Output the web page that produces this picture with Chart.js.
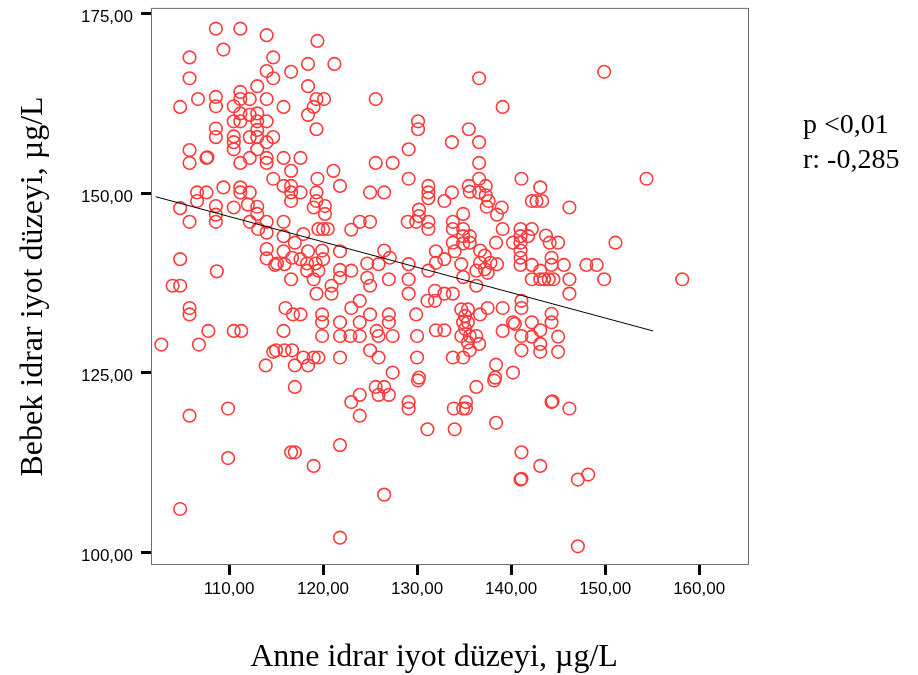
<!DOCTYPE html>
<html>
<head>
<meta charset="utf-8">
<script src="https://cdn.jsdelivr.net/npm/chart.js@4.4.0/dist/chart.umd.min.js"></script>
<style>
body{margin:0;background:#fff;}
#wrap{position:relative;width:918px;height:675px;}
.note{position:absolute;left:803px;font-family:'Liberation Serif','Times New Roman',serif;font-size:28px;color:#000;line-height:32px;white-space:nowrap;}
#xtitle{position:absolute;left:134px;width:600px;top:636px;text-align:center;font-family:'Liberation Serif','Times New Roman',serif;font-size:32px;line-height:38px;color:#000;}
</style>
</head>
<body>
<div id="wrap">
  <canvas id="scatter" width="918" height="675"></canvas>
  <div class="note" style="top:108px">p &lt;0,01</div>
  <div class="note" style="top:143px">r: -0,285</div>
  <div id="xtitle">Anne idrar iyot düzeyi, µg/L</div>
</div>
<script>
// anne (mother) urine iodine, x axis
var anneIyot = [
  108.6,111.2,114.0,109.4,105.8,114.7,105.8,114.0,114.7,113.0,
  111.2,106.7,108.6,108.6,104.8,111.2,112.2,114.0,110.5,111.2,
  112.2,113.0,110.5,111.2,113.0,114.0,108.6,108.6,110.5,112.2,
  113.0,113.0,114.7,110.5,110.5,114.0,113.0,105.8,105.8,107.6,
  107.7,111.2,112.2,114.0,114.0,114.7,109.4,111.2,106.6,107.6,
  111.2,112.2,
  106.6,104.8,108.6,108.6,110.5,112.0,113.0,113.0,112.2,114.0,
  105.8,108.6,113.1,114.0,114.0,114.0,114.9,104.8,108.7,104.0,
  104.8,105.8,105.8,107.8,110.5,111.3,102.8,106.8,114.7,113.9,
  105.8,109.9,109.9,104.8,
  119.4,118.4,121.2,116.6,118.4,119.3,120.1,125.6,115.8,119.0,
  118.4,119.3,115.8,117.6,116.6,121.1,119.4,125.6,127.4,115.8,
  116.6,121.8,
  116.6,116.6,117.6,119.3,119.3,120.2,120.2,119.0,125.0,126.5,
  115.8,115.8,117.9,117.0,119.5,120.0,120.5,123.0,123.9,125.0,
  121.8,126.5,127.1,115.8,119.9,118.4,120.0,116.7,117.6,115.1,
  115.9,118.3,119.2,118.3,119.5,124.7,125.9,121.8,123.0,116.6,
  119.0,121.8,124.7,125.0,127.0,120.9,120.9,119.3,123.9,123.0,
  116.0,116.8,117.6,119.9,119.9,121.8,123.9,125.0,127.0,127.0,
  115.8,119.9,121.8,122.9,123.9,125.7,125.9,127.4,115.0,115.9,
  116.7,117.9,119.0,119.5,121.8,125.0,125.9,117.0,118.4,127.4,
  117.0,123.9,123.0,123.9,125.6,126.5,125.9,127.0,116.6,117.0,
  119.0,121.8,126.5,121.8,
  136.6,139.1,130.1,130.1,135.5,133.7,136.6,129.1,136.6,129.1,
  136.6,141.1,131.2,131.2,135.5,137.3,133.7,136.6,137.3,
  131.2,132.9,135.6,137.6,137.4,139.0,138.5,130.2,130.2,129.0,
  129.9,131.2,131.2,134.9,133.8,133.8,134.9,134.9,135.6,135.6,
  133.8,134.9,134.0,132.0,139.1,140.2,138.4,141.0,141.0,141.0,
  141.0,141.0,141.0,141.8,136.7,137.2,136.7,137.8,137.2,136.3,
  138.5,137.5,134.7,132.9,132.0,131.2,129.1,129.1,129.1,134.9,
  136.3,131.9,131.9,132.9,133.8,131.1,134.7,135.1,135.4,134.9,
  135.4,135.1,134.7,135.6,136.3,135.4,136.6,136.7,137.5,139.1,
  141.1,141.1,129.9,132.0,132.9,130.0,139.1,140.2,140.4,141.1,
  141.1,130.0,133.8,134.9,135.6,138.4,138.3,140.2,130.2,
  130.1,136.3,138.2,129.1,129.1,133.9,134.9,135.2,135.2,131.1,
  134.0,138.4,141.1,141.0,141.1,
  149.9,154.4,143.1,
  142.2,142.7,143.3,146.2,142.2,143.7,144.1,145.0,151.1,142.2,
  144.3,144.3,145.6,143.1,148.0,149.1,142.2,143.1,143.5,144.0,
  144.5,146.2,146.2,149.9,158.2,144.3,144.3,143.1,142.2,142.2,
  143.1,143.1,145.0,145.0,
  144.3,144.4,146.2,143.1,147.1,148.2,147.1
];

// bebek (baby) urine iodine, y axis
var bebekIyot = [
  172.9,172.9,172.0,170.0,168.9,168.9,166.0,167.0,166.0,164.9,
  164.1,163.1,163.4,162.1,162.0,163.1,163.1,163.1,162.1,161.1,
  160.9,161.1,160.0,160.0,160.0,160.0,159.0,157.8,157.9,157.8,
  158.8,157.8,157.8,157.1,156.1,157.1,156.1,156.0,154.2,154.9,
  155.0,154.2,154.9,154.9,154.2,152.0,150.8,150.8,150.1,150.1,
  150.1,150.1,
  148.9,147.9,148.2,147.0,148.0,148.4,148.1,147.1,146.0,146.0,
  146.0,146.0,145.0,144.5,142.2,140.9,140.0,140.8,139.1,137.1,
  137.1,134.0,133.1,130.8,130.8,130.8,128.9,128.9,127.9,126.0,
  119.0,120.0,113.1,106.0,
  171.2,168.0,168.0,166.9,164.9,163.1,163.1,163.1,162.0,162.0,
  160.9,158.9,154.9,154.9,153.1,153.1,152.0,154.2,154.2,151.0,
  151.0,151.0,
  150.1,148.9,150.1,150.1,148.9,148.2,147.1,148.0,150.1,150.1,
  146.0,144.0,144.3,143.1,145.0,145.0,145.0,144.9,146.0,146.0,
  141.9,142.0,141.0,141.9,142.0,141.9,140.8,141.0,140.8,140.2,
  140.1,140.2,140.2,139.2,139.2,140.2,140.1,139.3,139.2,138.0,
  138.0,138.2,138.2,137.1,138.0,137.1,136.0,136.0,135.0,134.0,
  134.0,133.1,133.1,133.1,132.0,132.0,132.0,133.1,133.1,132.0,
  130.8,130.1,130.1,130.1,130.1,130.8,130.1,130.1,128.1,128.1,
  128.1,127.1,127.1,127.1,127.1,128.1,127.1,126.0,126.0,125.0,
  123.0,121.9,120.9,119.0,123.0,123.0,121.9,121.9,113.9,113.9,
  112.0,114.9,108.0,102.0,
  166.0,162.0,160.0,158.9,158.9,157.1,157.1,156.1,154.2,152.0,
  152.0,152.0,151.0,150.1,151.0,151.0,150.1,150.1,149.7,
  149.3,148.9,150.2,148.9,148.1,148.0,147.0,147.7,146.8,146.0,
  146.0,146.0,145.0,147.1,146.0,145.0,145.0,144.0,144.0,143.1,
  143.1,143.0,141.9,141.9,145.0,143.1,143.1,145.0,144.0,143.1,
  142.0,141.0,140.0,144.0,142.0,141.3,140.3,140.3,139.4,139.2,
  140.1,138.9,140.1,140.8,140.3,139.2,140.1,138.0,136.0,138.3,
  137.1,136.4,135.0,136.0,136.0,135.0,133.8,132.9,133.8,132.0,
  132.0,131.1,130.1,130.1,130.1,129.2,129.0,133.1,134.0,134.0,
  135.0,134.0,133.1,130.9,130.9,130.1,130.8,132.0,131.8,130.1,
  128.1,127.1,127.1,127.1,128.1,126.1,124.3,125.0,124.3,
  123.9,123.0,123.9,120.9,120.0,120.0,120.0,120.9,120.0,117.1,
  117.1,118.0,113.9,110.1,110.2,
  166.9,152.0,150.8,
  148.9,148.9,148.9,148.0,145.0,144.1,143.1,143.1,143.1,140.0,
  141.0,140.0,140.0,139.2,140.0,140.0,138.0,138.0,138.0,138.0,
  138.0,138.0,136.0,138.0,138.0,133.2,132.0,130.9,132.0,130.0,
  129.0,127.9,130.0,127.9,
  120.9,121.0,120.0,112.0,110.1,110.8,100.8
];

// fit line ends
var fitX = [102.2, 155.1];
var fitY = [149.5, 130.8];

var xTicks = [110, 120, 130, 140, 150, 160];
var yTicks = [100, 125, 150, 175];

function commaFmt(v){
  return Number(v).toFixed(2).replace('.', ',');
}

var points = [];
for (var i = 0; i < anneIyot.length; i++) {
  points.push({x: anneIyot[i], y: bebekIyot[i]});
}
var fitPoints = [];
for (var j = 0; j < fitX.length; j++) {
  fitPoints.push({x: fitX[j], y: fitY[j]});
}

var framePlugin = {
  id: 'frame',
  beforeDatasetsDraw: function(chart){
    var a = chart.chartArea;
    var ctx = chart.ctx;
    ctx.save();
    ctx.strokeStyle = '#6e6e6e';
    ctx.lineWidth = 1;
    ctx.strokeRect(a.left + 0.5, a.top + 0.5, a.right - a.left - 1, a.bottom - a.top - 1);
    ctx.restore();
  }
};

Chart.defaults.font.family = "'Liberation Sans', Arial, sans-serif";
Chart.defaults.color = '#000';

var ctx = document.getElementById('scatter');
var chart = new Chart(ctx, {
  type: 'scatter',
  data: {
    datasets: [
      {
        type: 'line',
        data: fitPoints,
        borderColor: '#000',
        borderWidth: 1,
        pointRadius: 0,
        fill: false
      },
      {
        data: points,
        pointStyle: 'circle',
        pointRadius: 6.3,
        pointBorderWidth: 1.6,
        borderColor: '#ff3b3b',
        backgroundColor: 'rgba(0,0,0,0)'
      }
    ]
  },
  options: {
    responsive: false,
    animation: false,
    layout: {padding: {top: 6, right: 169, bottom: 0, left: 0}},
    plugins: {legend: {display: false}, tooltip: {enabled: false}},
    scales: {
      x: {
        type: 'linear',
        min: 101.7,
        max: 165.3,
        afterBuildTicks: function(s){
          s.ticks = xTicks.map(function(v){ return {value: v}; });
        },
        afterFit: function(s){
          s.height = 110;
          s.paddingLeft = 0;
          s.paddingRight = 0;
        },
        ticks: {
          callback: commaFmt,
          font: {size: 17},
          padding: 4,
          maxRotation: 0,
          autoSkip: false
        },
        grid: {drawOnChartArea: false, tickLength: 10, tickWidth: 3, tickColor: '#000'},
        border: {display: false}
      },
      y: {
        type: 'linear',
        min: 98.2,
        max: 175.8,
        afterBuildTicks: function(s){
          s.ticks = yTicks.map(function(v){ return {value: v}; });
        },
        afterFit: function(s){
          s.width = 151;
          s.paddingTop = 0;
          s.paddingBottom = 0;
        },
        ticks: {
          callback: commaFmt,
          font: {size: 17},
          padding: 8,
          labelOffset: 4,
          autoSkip: false
        },
        grid: {drawOnChartArea: false, tickLength: 10, tickWidth: 3, tickColor: '#000'},
        border: {display: false},
        title: {
          display: true,
          text: 'Bebek idrar iyot düzeyi, µg/L',
          font: {family: "'Liberation Serif', 'Times New Roman', serif", size: 32},
          padding: {top: 14, bottom: 0}
        }
      }
    }
  },
  plugins: [framePlugin]
});
</script>
</body>
</html>
